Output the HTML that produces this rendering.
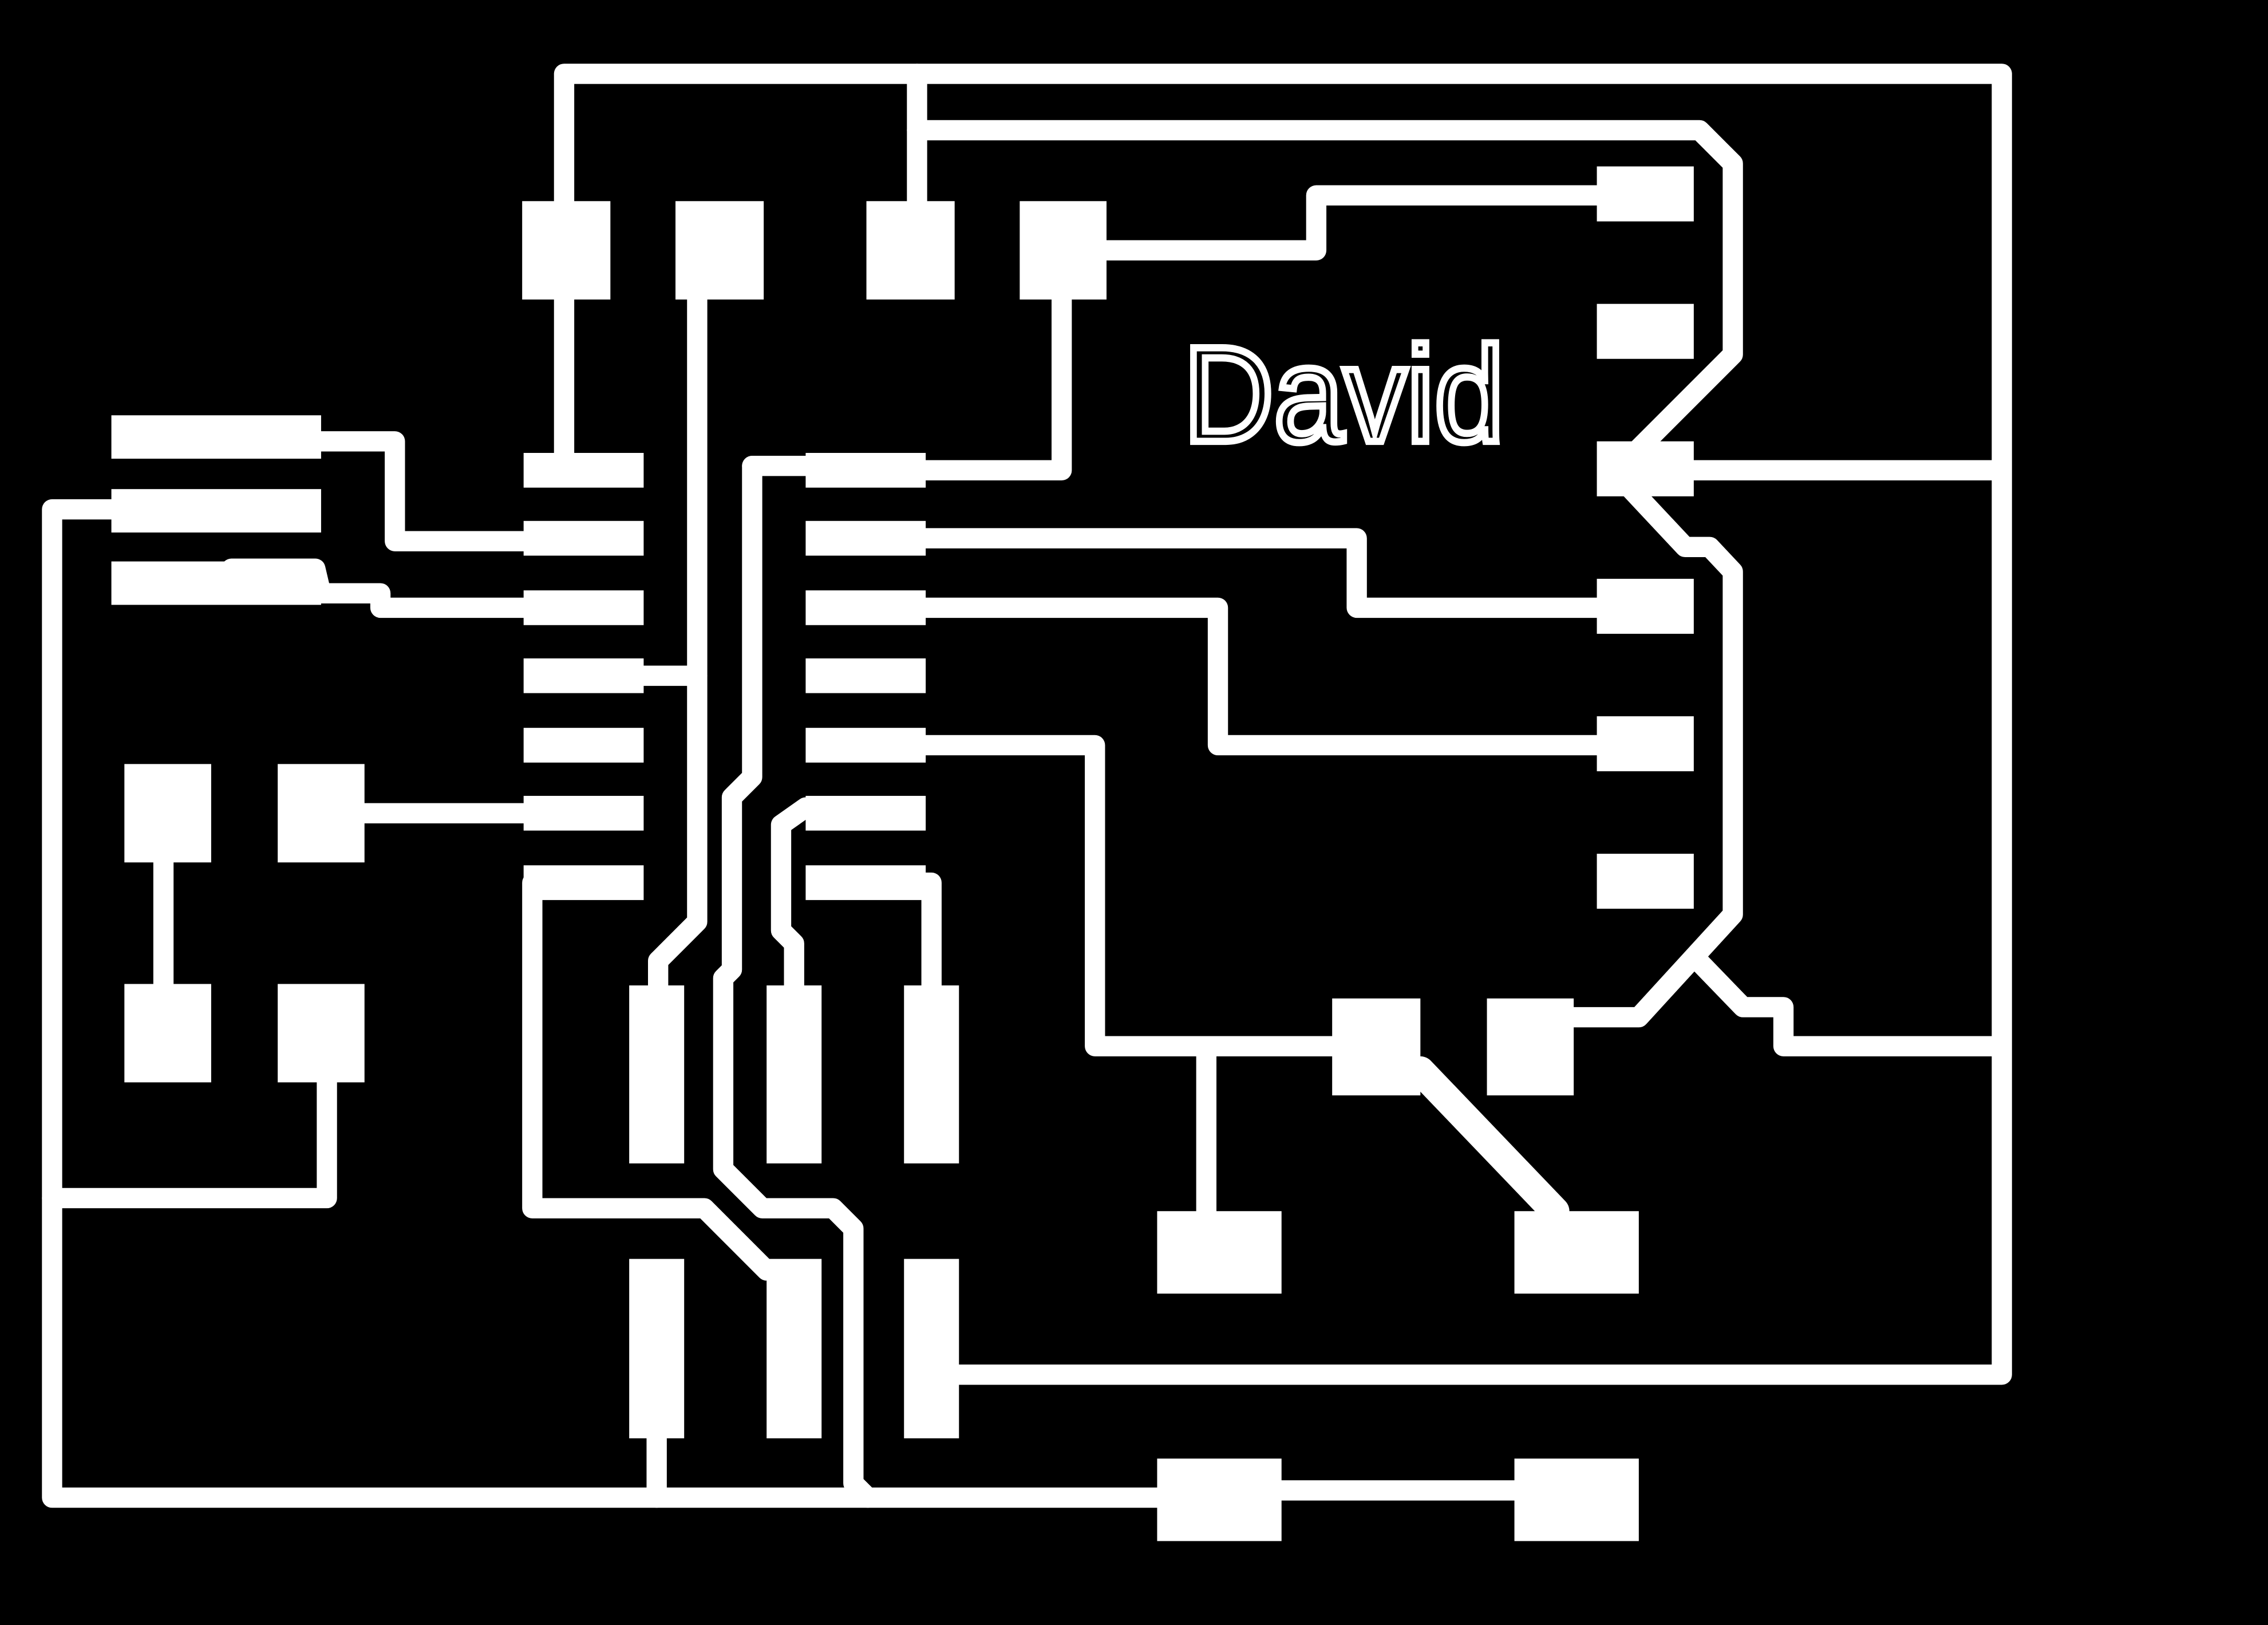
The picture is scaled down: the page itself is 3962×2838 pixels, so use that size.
<!DOCTYPE html>
<html><head><style>html,body{margin:0;padding:0;background:#000;}svg{display:block}</style></head>
<body>
<svg width="3962" height="2838" viewBox="0 0 1568 1123" preserveAspectRatio="none" xmlns="http://www.w3.org/2000/svg">
<rect width="1568" height="1123" fill="#000"/>
<g fill="none" stroke="#fff" stroke-width="14" stroke-linejoin="round" stroke-linecap="round">
<polyline points="390,140 390,51 1384,51 1384,950 656,950"/>
<polyline points="634,51 634,140"/>
<polyline points="634,90 1175,90 1198,113 1198,245 1120,323"/>
<polyline points="1171,325 1378,325"/>
<polyline points="1120,330 1165,378 1182,378 1198,395 1198,632 1133,703 1088,703"/>
<polyline points="1175,665 1205,696 1233,696 1233,723 1378,723"/>
<polyline points="765,173 910,173 910,135 1104,135"/>
<polyline points="734,207 734,325 640,325"/>
<polyline points="390,207 390,318"/>
<polyline points="482,207 482,637 455,664 455,681"/>
<polyline points="445,467 482,467"/>
<polyline points="222,305 273,305 273,374 362,374"/>
<polyline points="160,393 218,393 222,410 263,410 263,420 362,420"/>
<polyline points="77,352 36,352 36,1035 800,1035"/>
<polyline points="36,828 226,828 226,748"/>
<polyline points="113,596 113,680"/>
<polyline points="252,562 362,562"/>
<polyline points="640,372 938,372 938,420 1104,420"/>
<polyline points="640,420 842,420 842,515 1104,515"/>
<polyline points="640,515 757,515 757,723 921,723"/>
<polyline points="834,723 834,837"/>
<polyline points="886,1030 1047,1030"/>
<polyline points="520,322 557,322"/>
<polyline points="520,322 520,537 506,551 506,670 500,676 500,808 527,835 576,835 590,849 590,1025 600,1035"/>
<polyline points="368,610 368,835 487,835 530,878"/>
<polyline points="557,558 540,570 540,643 549,652 549,681"/>
<polyline points="640,610 644,610 644,681"/>
<polyline points="454,994 454,1035"/>
<polyline points="982,740 1075,837" stroke-width="20"/>
</g>
<g fill="#fff">
<rect x="361" y="139" width="61" height="68"/><rect x="467" y="139" width="61" height="68"/>
<rect x="599" y="139" width="61" height="68"/><rect x="705" y="139" width="60" height="68"/>
<rect x="362" y="313" width="83" height="24"/><rect x="362" y="360" width="83" height="24"/>
<rect x="362" y="408" width="83" height="24"/><rect x="362" y="455" width="83" height="24"/>
<rect x="362" y="503" width="83" height="24"/><rect x="362" y="550" width="83" height="24"/>
<rect x="362" y="598" width="83" height="24"/>
<rect x="557" y="313" width="83" height="24"/><rect x="557" y="360" width="83" height="24"/>
<rect x="557" y="408" width="83" height="24"/><rect x="557" y="455" width="83" height="24"/>
<rect x="557" y="503" width="83" height="24"/><rect x="557" y="550" width="83" height="24"/>
<rect x="557" y="598" width="83" height="24"/>
<rect x="77" y="287" width="145" height="30"/><rect x="77" y="338" width="145" height="30"/>
<rect x="77" y="388" width="145" height="30"/>
<rect x="86" y="528" width="60" height="68"/><rect x="192" y="528" width="60" height="68"/>
<rect x="86" y="680" width="60" height="68"/><rect x="192" y="680" width="60" height="68"/>
<rect x="435" y="681" width="38" height="123"/><rect x="530" y="681" width="38" height="123"/>
<rect x="625" y="681" width="38" height="123"/>
<rect x="435" y="870" width="38" height="124"/><rect x="530" y="870" width="38" height="124"/>
<rect x="625" y="870" width="38" height="124"/>
<rect x="800" y="837" width="86" height="57"/><rect x="1047" y="837" width="86" height="57"/>
<rect x="800" y="1008" width="86" height="57"/><rect x="1047" y="1008" width="86" height="57"/>
<rect x="921" y="690" width="61" height="67"/><rect x="1028" y="690" width="60" height="67"/>
<rect x="1104" y="115" width="67" height="38"/><rect x="1104" y="210" width="67" height="38"/>
<rect x="1104" y="305" width="67" height="38"/><rect x="1104" y="400" width="67" height="38"/>
<rect x="1104" y="495" width="67" height="38"/><rect x="1104" y="590" width="67" height="38"/>
</g>
<text x="818" y="305" font-family="Liberation Sans, sans-serif" font-size="94" fill="#000" stroke="#fff" stroke-width="5" textLength="222" lengthAdjust="spacingAndGlyphs">David</text>
</svg>
</body></html>
